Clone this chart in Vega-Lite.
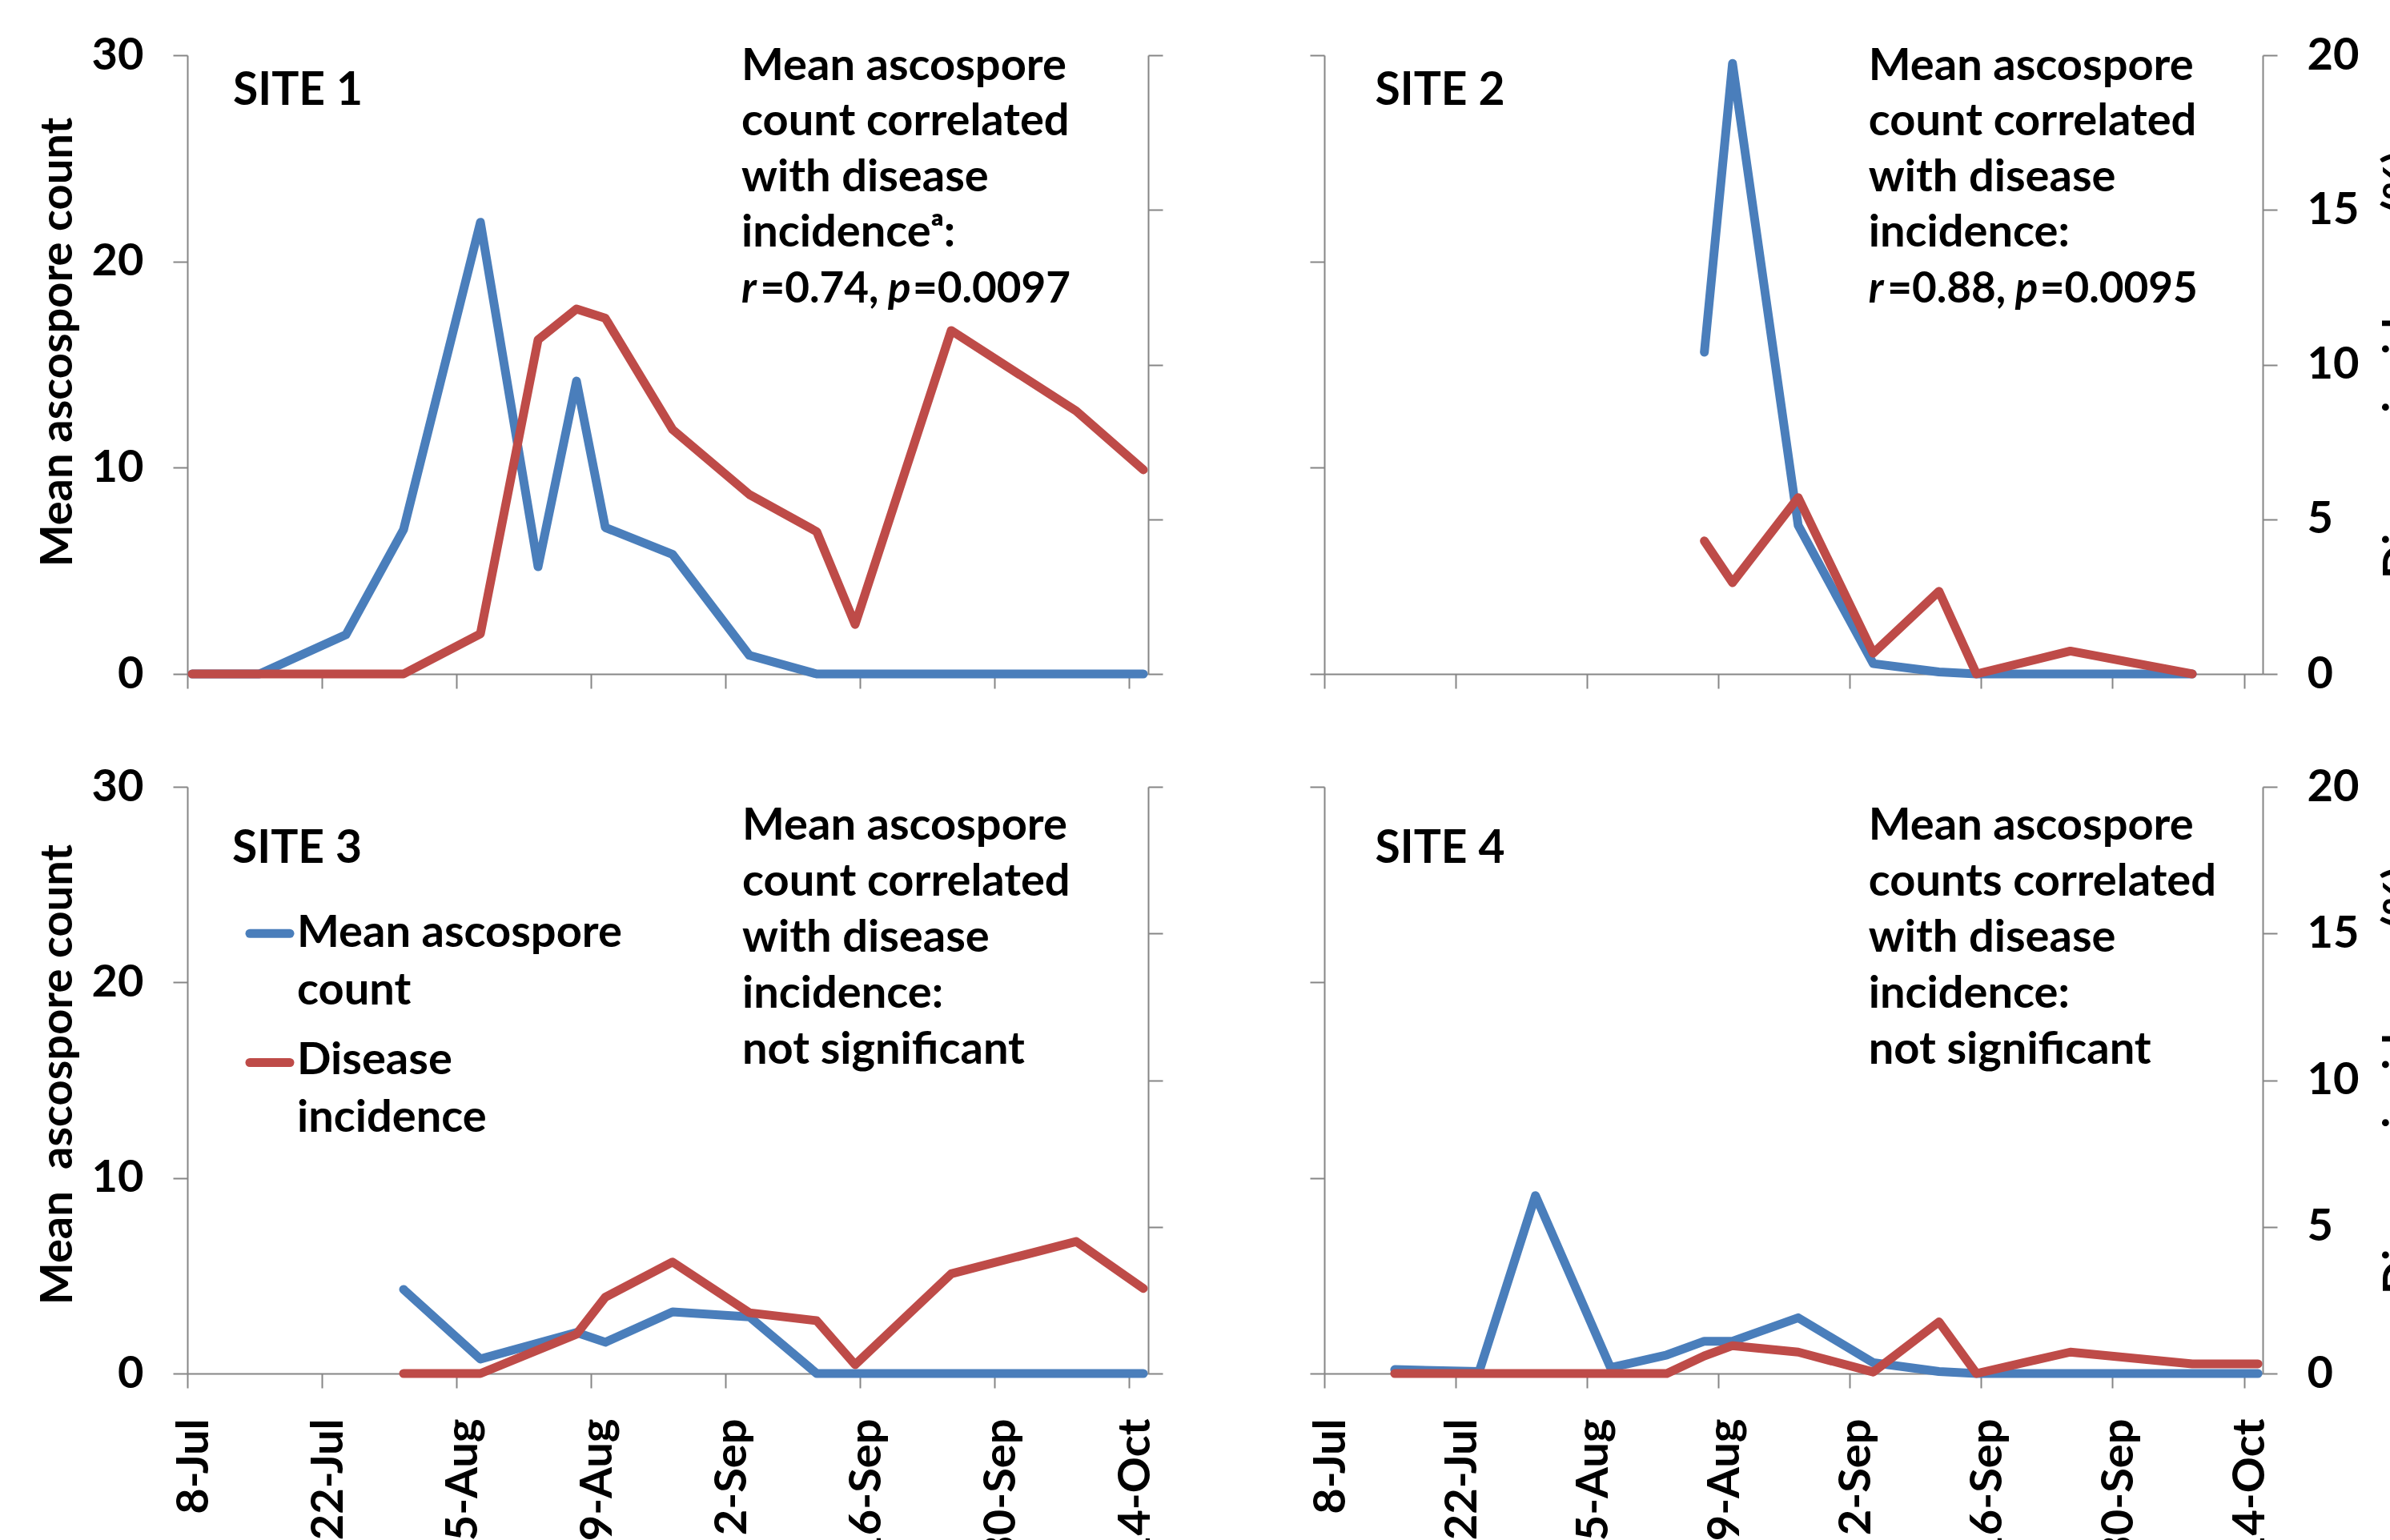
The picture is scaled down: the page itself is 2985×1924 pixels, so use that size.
{
"$schema": "https://vega.github.io/schema/vega-lite/v6.json",
"background": "white",
"padding": {"left": 44, "top": 41, "right": 0, "bottom": 0},
"datasets": {"obs": [
{"site":1,"series":"Mean ascospore count","date":"2012-07-08T12:00:00Z","value":0},
{"site":1,"series":"Mean ascospore count","date":"2012-07-15T12:00:00Z","value":0},
{"site":1,"series":"Mean ascospore count","date":"2012-07-24T12:00:00Z","value":1.9},
{"site":1,"series":"Mean ascospore count","date":"2012-07-30T12:00:00Z","value":7.0},
{"site":1,"series":"Mean ascospore count","date":"2012-08-07T12:00:00Z","value":21.9},
{"site":1,"series":"Mean ascospore count","date":"2012-08-13T12:00:00Z","value":5.2},
{"site":1,"series":"Mean ascospore count","date":"2012-08-17T12:00:00Z","value":14.2},
{"site":1,"series":"Mean ascospore count","date":"2012-08-20T12:00:00Z","value":7.1},
{"site":1,"series":"Mean ascospore count","date":"2012-08-27T12:00:00Z","value":5.8},
{"site":1,"series":"Mean ascospore count","date":"2012-09-04T12:00:00Z","value":0.9},
{"site":1,"series":"Mean ascospore count","date":"2012-09-11T12:00:00Z","value":0},
{"site":1,"series":"Mean ascospore count","date":"2012-09-15T12:00:00Z","value":0},
{"site":1,"series":"Mean ascospore count","date":"2012-09-25T12:00:00Z","value":0},
{"site":1,"series":"Mean ascospore count","date":"2012-10-08T12:00:00Z","value":0},
{"site":1,"series":"Mean ascospore count","date":"2012-10-15T12:00:00Z","value":0},
{"site":1,"series":"Disease incidence","date":"2012-07-08T12:00:00Z","value":0},
{"site":1,"series":"Disease incidence","date":"2012-07-15T12:00:00Z","value":0},
{"site":1,"series":"Disease incidence","date":"2012-07-24T12:00:00Z","value":0},
{"site":1,"series":"Disease incidence","date":"2012-07-30T12:00:00Z","value":0},
{"site":1,"series":"Disease incidence","date":"2012-08-07T12:00:00Z","value":1.3},
{"site":1,"series":"Disease incidence","date":"2012-08-13T12:00:00Z","value":10.8},
{"site":1,"series":"Disease incidence","date":"2012-08-17T12:00:00Z","value":11.8},
{"site":1,"series":"Disease incidence","date":"2012-08-20T12:00:00Z","value":11.5},
{"site":1,"series":"Disease incidence","date":"2012-08-27T12:00:00Z","value":7.9},
{"site":1,"series":"Disease incidence","date":"2012-09-04T12:00:00Z","value":5.8},
{"site":1,"series":"Disease incidence","date":"2012-09-11T12:00:00Z","value":4.6},
{"site":1,"series":"Disease incidence","date":"2012-09-15T12:00:00Z","value":1.6},
{"site":1,"series":"Disease incidence","date":"2012-09-25T12:00:00Z","value":11.1},
{"site":1,"series":"Disease incidence","date":"2012-10-08T12:00:00Z","value":8.5},
{"site":1,"series":"Disease incidence","date":"2012-10-15T12:00:00Z","value":6.6},
{"site":2,"series":"Mean ascospore count","date":"2012-08-17T12:00:00Z","value":15.6},
{"site":2,"series":"Mean ascospore count","date":"2012-08-20T12:00:00Z","value":29.6},
{"site":2,"series":"Mean ascospore count","date":"2012-08-27T12:00:00Z","value":7.2},
{"site":2,"series":"Mean ascospore count","date":"2012-09-04T12:00:00Z","value":0.5},
{"site":2,"series":"Mean ascospore count","date":"2012-09-11T12:00:00Z","value":0.1},
{"site":2,"series":"Mean ascospore count","date":"2012-09-15T12:00:00Z","value":0},
{"site":2,"series":"Mean ascospore count","date":"2012-09-25T12:00:00Z","value":0},
{"site":2,"series":"Mean ascospore count","date":"2012-10-08T12:00:00Z","value":0},
{"site":2,"series":"Disease incidence","date":"2012-08-17T12:00:00Z","value":4.3},
{"site":2,"series":"Disease incidence","date":"2012-08-20T12:00:00Z","value":2.95},
{"site":2,"series":"Disease incidence","date":"2012-08-27T12:00:00Z","value":5.7},
{"site":2,"series":"Disease incidence","date":"2012-09-04T12:00:00Z","value":0.67},
{"site":2,"series":"Disease incidence","date":"2012-09-11T12:00:00Z","value":2.67},
{"site":2,"series":"Disease incidence","date":"2012-09-15T12:00:00Z","value":0},
{"site":2,"series":"Disease incidence","date":"2012-09-25T12:00:00Z","value":0.74},
{"site":2,"series":"Disease incidence","date":"2012-10-08T12:00:00Z","value":0},
{"site":3,"series":"Mean ascospore count","date":"2012-07-30T12:00:00Z","value":4.3},
{"site":3,"series":"Mean ascospore count","date":"2012-08-07T12:00:00Z","value":0.74},
{"site":3,"series":"Mean ascospore count","date":"2012-08-17T12:00:00Z","value":2.1},
{"site":3,"series":"Mean ascospore count","date":"2012-08-20T12:00:00Z","value":1.6},
{"site":3,"series":"Mean ascospore count","date":"2012-08-27T12:00:00Z","value":3.15},
{"site":3,"series":"Mean ascospore count","date":"2012-09-04T12:00:00Z","value":2.9},
{"site":3,"series":"Mean ascospore count","date":"2012-09-11T12:00:00Z","value":0},
{"site":3,"series":"Mean ascospore count","date":"2012-09-15T12:00:00Z","value":0},
{"site":3,"series":"Mean ascospore count","date":"2012-09-25T12:00:00Z","value":0},
{"site":3,"series":"Mean ascospore count","date":"2012-10-08T12:00:00Z","value":0},
{"site":3,"series":"Mean ascospore count","date":"2012-10-15T12:00:00Z","value":0},
{"site":3,"series":"Disease incidence","date":"2012-07-30T12:00:00Z","value":0},
{"site":3,"series":"Disease incidence","date":"2012-08-07T12:00:00Z","value":0},
{"site":3,"series":"Disease incidence","date":"2012-08-17T12:00:00Z","value":1.34},
{"site":3,"series":"Disease incidence","date":"2012-08-20T12:00:00Z","value":2.6},
{"site":3,"series":"Disease incidence","date":"2012-08-27T12:00:00Z","value":3.8},
{"site":3,"series":"Disease incidence","date":"2012-09-04T12:00:00Z","value":2.07},
{"site":3,"series":"Disease incidence","date":"2012-09-11T12:00:00Z","value":1.8},
{"site":3,"series":"Disease incidence","date":"2012-09-15T12:00:00Z","value":0.3},
{"site":3,"series":"Disease incidence","date":"2012-09-25T12:00:00Z","value":3.4},
{"site":3,"series":"Disease incidence","date":"2012-10-08T12:00:00Z","value":4.5},
{"site":3,"series":"Disease incidence","date":"2012-10-15T12:00:00Z","value":2.9},
{"site":4,"series":"Mean ascospore count","date":"2012-07-15T12:00:00Z","value":0.2},
{"site":4,"series":"Mean ascospore count","date":"2012-07-24T12:00:00Z","value":0.1},
{"site":4,"series":"Mean ascospore count","date":"2012-07-30T12:00:00Z","value":9.1},
{"site":4,"series":"Mean ascospore count","date":"2012-08-07T12:00:00Z","value":0.3},
{"site":4,"series":"Mean ascospore count","date":"2012-08-13T12:00:00Z","value":0.95},
{"site":4,"series":"Mean ascospore count","date":"2012-08-17T12:00:00Z","value":1.65},
{"site":4,"series":"Mean ascospore count","date":"2012-08-20T12:00:00Z","value":1.65},
{"site":4,"series":"Mean ascospore count","date":"2012-08-27T12:00:00Z","value":2.85},
{"site":4,"series":"Mean ascospore count","date":"2012-09-04T12:00:00Z","value":0.55},
{"site":4,"series":"Mean ascospore count","date":"2012-09-11T12:00:00Z","value":0.1},
{"site":4,"series":"Mean ascospore count","date":"2012-09-15T12:00:00Z","value":0},
{"site":4,"series":"Mean ascospore count","date":"2012-09-25T12:00:00Z","value":0},
{"site":4,"series":"Mean ascospore count","date":"2012-10-08T12:00:00Z","value":0},
{"site":4,"series":"Mean ascospore count","date":"2012-10-15T12:00:00Z","value":0},
{"site":4,"series":"Disease incidence","date":"2012-07-15T12:00:00Z","value":0},
{"site":4,"series":"Disease incidence","date":"2012-07-24T12:00:00Z","value":0},
{"site":4,"series":"Disease incidence","date":"2012-07-30T12:00:00Z","value":0},
{"site":4,"series":"Disease incidence","date":"2012-08-07T12:00:00Z","value":0},
{"site":4,"series":"Disease incidence","date":"2012-08-13T12:00:00Z","value":0},
{"site":4,"series":"Disease incidence","date":"2012-08-17T12:00:00Z","value":0.6},
{"site":4,"series":"Disease incidence","date":"2012-08-20T12:00:00Z","value":0.95},
{"site":4,"series":"Disease incidence","date":"2012-08-27T12:00:00Z","value":0.73},
{"site":4,"series":"Disease incidence","date":"2012-09-04T12:00:00Z","value":0.05},
{"site":4,"series":"Disease incidence","date":"2012-09-11T12:00:00Z","value":1.76},
{"site":4,"series":"Disease incidence","date":"2012-09-15T12:00:00Z","value":0},
{"site":4,"series":"Disease incidence","date":"2012-09-25T12:00:00Z","value":0.73},
{"site":4,"series":"Disease incidence","date":"2012-10-08T12:00:00Z","value":0.33},
{"site":4,"series":"Disease incidence","date":"2012-10-15T12:00:00Z","value":0.33}
]},
"data": {"name": "obs"},
"bounds": "flush",
"align": "each",
"columns": 2,
"spacing": {"row": 141, "column": 220},
"resolve": {"scale": {"x": "independent", "y": "independent", "color": "independent"}},
"concat": [
{
 "width": 1200, "height": 773,
 "layer": [
  {"layer": [
   {"transform": [{"filter": "datum.site == 1 && datum.series == 'Mean ascospore count'"}],
    "mark": {"type": "line", "strokeWidth": 11, "strokeCap": "round", "strokeJoin": "round"},
    "encoding": {
     "x": {"field": "date", "type": "temporal", "scale": {"type": "utc", "domain": [{"year":2012,"month":7,"date":8,"utc":true},{"year":2012,"month":10,"date":16,"utc":true}], "nice": false},
           "axis": {"values": [{"year":2012,"month":7,"date":8,"utc":true},{"year":2012,"month":7,"date":22,"utc":true},{"year":2012,"month":8,"date":5,"utc":true},{"year":2012,"month":8,"date":19,"utc":true},{"year":2012,"month":9,"date":2,"utc":true},{"year":2012,"month":9,"date":16,"utc":true},{"year":2012,"month":9,"date":30,"utc":true},{"year":2012,"month":10,"date":14,"utc":true}], "labels": false, "title": null}},
     "y": {"field": "value", "type": "quantitative", "scale": {"domain": [0, 30], "nice": false},
           "axis": {"orient": "left", "values": [0, 10, 20, 30], "title": "Mean ascospore count", "titlePadding": 13, "titleY": 358}},
     "color": {"field": "series", "type": "nominal", "scale": {"domain": ["Mean ascospore count", "Disease incidence"], "range": ["#4A7EBB", "#BE4B48"]}, "legend": null}
    }},
   {"data": {"values": [{"label": "SITE 1"}]},
    "mark": {"type": "text", "fontSize": 57},
    "encoding": {
     "x": {"datum": {"year":2012,"month":7,"date":12,"hours":18,"utc":true}, "type": "temporal"},
     "y": {"datum": 27.6, "type": "quantitative"},
     "text": {"field": "label"}}},
   {"data": {"values": [{}]},
    "mark": {"type": "text", "lineHeight": 69.5, "text": ["Mean ascospore", "count correlated", "with disease", "incidenceᵃ:"]},
    "encoding": {
     "x": {"datum": {"year":2012,"month":9,"date":3,"hours":16,"utc":true}, "type": "temporal"},
     "y": {"datum": 28.8, "type": "quantitative"}}},
   {"data": {"values": [{}]},
    "mark": {"type": "text", "fontSize": 53, "fontStyle": "italic", "text": "r"},
    "encoding": {
     "x": {"datum": {"year":2012,"month":9,"date":3,"hours":16,"utc":true}, "type": "temporal"},
     "y": {"datum": 18.0, "type": "quantitative"}}},
   {"data": {"values": [{}]},
    "mark": {"type": "text", "fontSize": 53, "dx": 23.5, "text": "=0.74,"},
    "encoding": {
     "x": {"datum": {"year":2012,"month":9,"date":3,"hours":16,"utc":true}, "type": "temporal"},
     "y": {"datum": 18.0, "type": "quantitative"}}},
   {"data": {"values": [{}]},
    "mark": {"type": "text", "fontSize": 53, "fontStyle": "italic", "dx": 183, "text": "p"},
    "encoding": {
     "x": {"datum": {"year":2012,"month":9,"date":3,"hours":16,"utc":true}, "type": "temporal"},
     "y": {"datum": 18.0, "type": "quantitative"}}},
   {"data": {"values": [{}]},
    "mark": {"type": "text", "fontSize": 53, "dx": 214, "text": "=0.0097"},
    "encoding": {
     "x": {"datum": {"year":2012,"month":9,"date":3,"hours":16,"utc":true}, "type": "temporal"},
     "y": {"datum": 18.0, "type": "quantitative"}}}
  ]},
  {"transform": [{"filter": "datum.site == 1 && datum.series == 'Disease incidence'"}],
   "mark": {"type": "line", "strokeWidth": 11, "strokeCap": "round", "strokeJoin": "round"},
   "encoding": {
    "x": {"field": "date", "type": "temporal"},
    "y": {"field": "value", "type": "quantitative", "scale": {"domain": [0, 20], "nice": false},
          "axis": {"orient": "right", "values": [0, 5, 10, 15, 20], "labels": false, "title": null}},
    "color": {"field": "series", "type": "nominal", "scale": {"domain": ["Mean ascospore count", "Disease incidence"], "range": ["#4A7EBB", "#BE4B48"]}, "legend": null}
   }}
 ],
 "resolve": {"scale": {"y": "independent"}}
},
{
 "width": 1172, "height": 773,
 "layer": [
  {"layer": [
   {"transform": [{"filter": "datum.site == 2 && datum.series == 'Mean ascospore count'"}],
    "mark": {"type": "line", "strokeWidth": 11, "strokeCap": "round", "strokeJoin": "round"},
    "encoding": {
     "x": {"field": "date", "type": "temporal", "scale": {"type": "utc", "domain": [{"year":2012,"month":7,"date":8,"utc":true},{"year":2012,"month":10,"date":16,"utc":true}], "nice": false},
           "axis": {"values": [{"year":2012,"month":7,"date":8,"utc":true},{"year":2012,"month":7,"date":22,"utc":true},{"year":2012,"month":8,"date":5,"utc":true},{"year":2012,"month":8,"date":19,"utc":true},{"year":2012,"month":9,"date":2,"utc":true},{"year":2012,"month":9,"date":16,"utc":true},{"year":2012,"month":9,"date":30,"utc":true},{"year":2012,"month":10,"date":14,"utc":true}], "labels": false, "title": null}},
     "y": {"field": "value", "type": "quantitative", "scale": {"domain": [0, 30], "nice": false},
           "axis": {"orient": "left", "values": [0, 10, 20, 30], "labels": false, "title": null}},
     "color": {"field": "series", "type": "nominal", "scale": {"domain": ["Mean ascospore count", "Disease incidence"], "range": ["#4A7EBB", "#BE4B48"]}, "legend": null}
    }},
   {"data": {"values": [{"label": "SITE 2"}]},
    "mark": {"type": "text", "fontSize": 57},
    "encoding": {
     "x": {"datum": {"year":2012,"month":7,"date":13,"hours":10,"utc":true}, "type": "temporal"},
     "y": {"datum": 27.6, "type": "quantitative"},
     "text": {"field": "label"}}},
   {"data": {"values": [{}]},
    "mark": {"type": "text", "lineHeight": 69.5, "text": ["Mean ascospore", "count correlated", "with disease", "incidence:"]},
    "encoding": {
     "x": {"datum": {"year":2012,"month":9,"date":4,"utc":true}, "type": "temporal"},
     "y": {"datum": 28.8, "type": "quantitative"}}},
   {"data": {"values": [{}]},
    "mark": {"type": "text", "fontSize": 53, "fontStyle": "italic", "text": "r"},
    "encoding": {
     "x": {"datum": {"year":2012,"month":9,"date":4,"utc":true}, "type": "temporal"},
     "y": {"datum": 18.0, "type": "quantitative"}}},
   {"data": {"values": [{}]},
    "mark": {"type": "text", "fontSize": 53, "dx": 23.5, "text": "=0.88,"},
    "encoding": {
     "x": {"datum": {"year":2012,"month":9,"date":4,"utc":true}, "type": "temporal"},
     "y": {"datum": 18.0, "type": "quantitative"}}},
   {"data": {"values": [{}]},
    "mark": {"type": "text", "fontSize": 53, "fontStyle": "italic", "dx": 183, "text": "p"},
    "encoding": {
     "x": {"datum": {"year":2012,"month":9,"date":4,"utc":true}, "type": "temporal"},
     "y": {"datum": 18.0, "type": "quantitative"}}},
   {"data": {"values": [{}]},
    "mark": {"type": "text", "fontSize": 53, "dx": 214, "text": "=0.0095"},
    "encoding": {
     "x": {"datum": {"year":2012,"month":9,"date":4,"utc":true}, "type": "temporal"},
     "y": {"datum": 18.0, "type": "quantitative"}}}
  ]},
  {"transform": [{"filter": "datum.site == 2 && datum.series == 'Disease incidence'"}],
   "mark": {"type": "line", "strokeWidth": 11, "strokeCap": "round", "strokeJoin": "round"},
   "encoding": {
    "x": {"field": "date", "type": "temporal"},
    "y": {"field": "value", "type": "quantitative", "scale": {"domain": [0, 20], "nice": false},
          "axis": {"orient": "right", "values": [0, 5, 10, 15, 20], "title": "Disease incidence (%)", "titleAngle": -90, "titleBaseline": "top", "titlePadding": 26}},
    "color": {"field": "series", "type": "nominal", "scale": {"domain": ["Mean ascospore count", "Disease incidence"], "range": ["#4A7EBB", "#BE4B48"]}, "legend": null}
   }}
 ],
 "resolve": {"scale": {"y": "independent"}}
},
{
 "width": 1200, "height": 733,
 "layer": [
  {"layer": [
   {"transform": [{"filter": "datum.site == 3 && datum.series == 'Mean ascospore count'"}],
    "mark": {"type": "line", "strokeWidth": 11, "strokeCap": "round", "strokeJoin": "round"},
    "encoding": {
     "x": {"field": "date", "type": "temporal", "scale": {"type": "utc", "domain": [{"year":2012,"month":7,"date":8,"utc":true},{"year":2012,"month":10,"date":16,"utc":true}], "nice": false},
           "axis": {"values": [{"year":2012,"month":7,"date":8,"utc":true},{"year":2012,"month":7,"date":22,"utc":true},{"year":2012,"month":8,"date":5,"utc":true},{"year":2012,"month":8,"date":19,"utc":true},{"year":2012,"month":9,"date":2,"utc":true},{"year":2012,"month":9,"date":16,"utc":true},{"year":2012,"month":9,"date":30,"utc":true},{"year":2012,"month":10,"date":14,"utc":true}], "format": "%-d-%b", "labelAngle": -90, "labelPadding": 38, "labelOffset": 8, "labelLimit": 0, "labelOverlap": false, "title": null}},
     "y": {"field": "value", "type": "quantitative", "scale": {"domain": [0, 30], "nice": false},
           "axis": {"orient": "left", "values": [0, 10, 20, 30], "title": "Mean\u00a0 ascospore count", "titlePadding": 13, "titleY": 359}},
     "color": {"field": "series", "type": "nominal", "scale": {"domain": ["Mean ascospore count", "Disease incidence"], "range": ["#4A7EBB", "#BE4B48"]}, "legend": null}
    }},
   {"data": {"values": [{"label": "SITE 3"}]},
    "mark": {"type": "text", "fontSize": 57},
    "encoding": {
     "x": {"datum": {"year":2012,"month":7,"date":12,"hours":16,"utc":true}, "type": "temporal"},
     "y": {"datum": 26.1, "type": "quantitative"},
     "text": {"field": "label"}}},
   {"data": {"values": [{}]},
    "mark": {"type": "text", "lineHeight": 70, "text": ["Mean ascospore", "count correlated", "with disease", "incidence:", "not significant"]},
    "encoding": {
     "x": {"datum": {"year":2012,"month":9,"date":3,"hours":18,"utc":true}, "type": "temporal"},
     "y": {"datum": 27.3, "type": "quantitative"}}},
   {"data": {"values": [{}]},
    "mark": {"type": "rule", "strokeWidth": 11, "strokeCap": "round", "color": "#4A7EBB"},
    "encoding": {
     "x": {"datum": {"year":2012,"month":7,"date":14,"hours":12,"utc":true}, "type": "temporal"},
     "x2": {"datum": {"year":2012,"month":7,"date":18,"hours":16,"utc":true}},
     "y": {"datum": 22.5, "type": "quantitative"}}},
   {"data": {"values": [{}]},
    "mark": {"type": "rule", "strokeWidth": 11, "strokeCap": "round", "color": "#BE4B48"},
    "encoding": {
     "x": {"datum": {"year":2012,"month":7,"date":14,"hours":12,"utc":true}, "type": "temporal"},
     "x2": {"datum": {"year":2012,"month":7,"date":18,"hours":16,"utc":true}},
     "y": {"datum": 15.9, "type": "quantitative"}}},
   {"data": {"values": [{}]},
    "mark": {"type": "text", "lineHeight": 72, "text": ["Mean ascospore", "count"]},
    "encoding": {
     "x": {"datum": {"year":2012,"month":7,"date":19,"hours":10,"utc":true}, "type": "temporal"},
     "y": {"datum": 21.8, "type": "quantitative"}}},
   {"data": {"values": [{}]},
    "mark": {"type": "text", "lineHeight": 72, "text": ["Disease", "incidence"]},
    "encoding": {
     "x": {"datum": {"year":2012,"month":7,"date":19,"hours":10,"utc":true}, "type": "temporal"},
     "y": {"datum": 15.3, "type": "quantitative"}}}
  ]},
  {"transform": [{"filter": "datum.site == 3 && datum.series == 'Disease incidence'"}],
   "mark": {"type": "line", "strokeWidth": 11, "strokeCap": "round", "strokeJoin": "round"},
   "encoding": {
    "x": {"field": "date", "type": "temporal"},
    "y": {"field": "value", "type": "quantitative", "scale": {"domain": [0, 20], "nice": false},
          "axis": {"orient": "right", "values": [0, 5, 10, 15, 20], "labels": false, "title": null}},
    "color": {"field": "series", "type": "nominal", "scale": {"domain": ["Mean ascospore count", "Disease incidence"], "range": ["#4A7EBB", "#BE4B48"]}, "legend": null}
   }}
 ],
 "resolve": {"scale": {"y": "independent"}}
},
{
 "width": 1172, "height": 733,
 "layer": [
  {"layer": [
   {"transform": [{"filter": "datum.site == 4 && datum.series == 'Mean ascospore count'"}],
    "mark": {"type": "line", "strokeWidth": 11, "strokeCap": "round", "strokeJoin": "round"},
    "encoding": {
     "x": {"field": "date", "type": "temporal", "scale": {"type": "utc", "domain": [{"year":2012,"month":7,"date":8,"utc":true},{"year":2012,"month":10,"date":16,"utc":true}], "nice": false},
           "axis": {"values": [{"year":2012,"month":7,"date":8,"utc":true},{"year":2012,"month":7,"date":22,"utc":true},{"year":2012,"month":8,"date":5,"utc":true},{"year":2012,"month":8,"date":19,"utc":true},{"year":2012,"month":9,"date":2,"utc":true},{"year":2012,"month":9,"date":16,"utc":true},{"year":2012,"month":9,"date":30,"utc":true},{"year":2012,"month":10,"date":14,"utc":true}], "format": "%-d-%b", "labelAngle": -90, "labelPadding": 38, "labelOffset": 8, "labelLimit": 0, "labelOverlap": false, "title": null}},
     "y": {"field": "value", "type": "quantitative", "scale": {"domain": [0, 30], "nice": false},
           "axis": {"orient": "left", "values": [0, 10, 20, 30], "labels": false, "title": null}},
     "color": {"field": "series", "type": "nominal", "scale": {"domain": ["Mean ascospore count", "Disease incidence"], "range": ["#4A7EBB", "#BE4B48"]}, "legend": null}
    }},
   {"data": {"values": [{"label": "SITE 4"}]},
    "mark": {"type": "text", "fontSize": 57},
    "encoding": {
     "x": {"datum": {"year":2012,"month":7,"date":13,"hours":10,"utc":true}, "type": "temporal"},
     "y": {"datum": 26.1, "type": "quantitative"},
     "text": {"field": "label"}}},
   {"data": {"values": [{}]},
    "mark": {"type": "text", "lineHeight": 70, "text": ["Mean ascospore", "counts correlated", "with disease", "incidence:", "not significant"]},
    "encoding": {
     "x": {"datum": {"year":2012,"month":9,"date":4,"utc":true}, "type": "temporal"},
     "y": {"datum": 27.3, "type": "quantitative"}}}
  ]},
  {"transform": [{"filter": "datum.site == 4 && datum.series == 'Disease incidence'"}],
   "mark": {"type": "line", "strokeWidth": 11, "strokeCap": "round", "strokeJoin": "round"},
   "encoding": {
    "x": {"field": "date", "type": "temporal"},
    "y": {"field": "value", "type": "quantitative", "scale": {"domain": [0, 20], "nice": false},
          "axis": {"orient": "right", "values": [0, 5, 10, 15, 20], "title": "Disease incidence (%)", "titleAngle": -90, "titleBaseline": "top", "titlePadding": 26}},
    "color": {"field": "series", "type": "nominal", "scale": {"domain": ["Mean ascospore count", "Disease incidence"], "range": ["#4A7EBB", "#BE4B48"]}, "legend": null}
   }}
 ],
 "resolve": {"scale": {"y": "independent"}}
}
],
"config": {
 "view": {"stroke": null},
 "axis": {"domainColor": "#868686", "domainWidth": 2, "tickColor": "#868686", "tickWidth": 2, "tickSize": 18, "grid": false,
          "labelFont": "Lato", "labelFontSize": 56, "labelFontWeight": "bold", "labelColor": "black", "labelPadding": 37,
          "titleFont": "Lato", "titleFontSize": 56, "titleFontWeight": "bold", "titleColor": "black"},
 "line": {"strokeWidth": 11, "strokeCap": "round", "strokeJoin": "round"},
 "text": {"font": "Lato", "fontSize": 56, "fontWeight": "bold", "color": "black", "align": "left", "baseline": "alphabetic"}
}
}
